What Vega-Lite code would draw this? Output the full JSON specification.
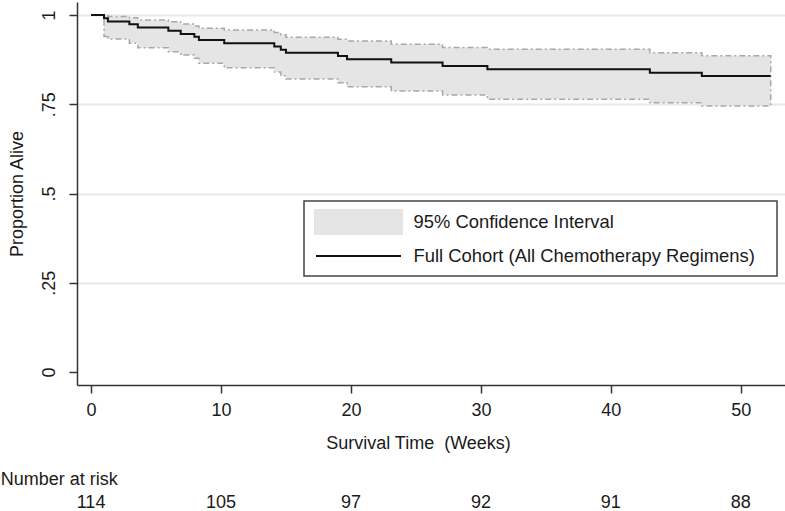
{
  "$schema": "https://vega.github.io/schema/vega-lite/v6.json",
  "padding": {"left": 0, "top": 2, "right": 0, "bottom": 0},
  "background": "white",
  "config": {
    "font": "Liberation Sans",
    "view": {"stroke": null},
    "axis": {"labelFont": "Liberation Sans", "titleFont": "Liberation Sans", "labelColor": "#1a1a1a", "titleColor": "#1a1a1a", "titleFontWeight": "normal", "labelFontSize": 18, "titleFontSize": 18, "domainColor": "#333333", "tickColor": "#333333", "domainWidth": 1.5, "tickWidth": 1.5},
    "legend": {
      "labelFont": "Liberation Sans", "orient": "none", "legendX": 227, "legendY": 199,
      "strokeColor": "#444444", "padding": 10, "rowPadding": 7,
      "labelFontSize": 18.4, "labelColor": "#1a1a1a", "labelOffset": 44, "labelLimit": 0,
      "symbolSize": 400, "symbolOffset": 33.5,
      "titleOrient": "right", "titlePadding": 12, "titleFontSize": 18
    },
    "title": {"font": "Liberation Sans", "fontWeight": "normal", "color": "#1a1a1a"}
  },
  "datasets": {
    "km": [
      {"week": 0, "S": 1, "lo": null, "hi": null},
      {"week": 1.0, "S": 0.991, "lo": 0.94, "hi": 0.999},
      {"week": 1.3, "S": 0.982, "lo": 0.933, "hi": 0.996},
      {"week": 2.95, "S": 0.974, "lo": 0.921, "hi": 0.992},
      {"week": 3.6, "S": 0.965, "lo": 0.908, "hi": 0.986},
      {"week": 5.95, "S": 0.956, "lo": 0.897, "hi": 0.981},
      {"week": 6.9, "S": 0.947, "lo": 0.888, "hi": 0.975},
      {"week": 7.95, "S": 0.939, "lo": 0.879, "hi": 0.969},
      {"week": 8.3, "S": 0.93, "lo": 0.865, "hi": 0.963},
      {"week": 10.25, "S": 0.921, "lo": 0.852, "hi": 0.958},
      {"week": 14.1, "S": 0.912, "lo": 0.84, "hi": 0.951},
      {"week": 14.6, "S": 0.903, "lo": 0.83, "hi": 0.945},
      {"week": 15.0, "S": 0.894, "lo": 0.821, "hi": 0.9375},
      {"week": 19.0, "S": 0.885, "lo": 0.81, "hi": 0.932},
      {"week": 19.7, "S": 0.876, "lo": 0.799, "hi": 0.927},
      {"week": 23.1, "S": 0.867, "lo": 0.787, "hi": 0.918},
      {"week": 27.05, "S": 0.857, "lo": 0.776, "hi": 0.909},
      {"week": 30.5, "S": 0.848, "lo": 0.764, "hi": 0.904},
      {"week": 43.0, "S": 0.838, "lo": 0.754, "hi": 0.894},
      {"week": 47.0, "S": 0.829, "lo": 0.745, "hi": 0.886},
      {"week": 52.3, "S": 0.829, "lo": 0.745, "hi": 0.886}
    ],
    "risk": [
      {"week": 0, "n": 114},
      {"week": 10, "n": 105},
      {"week": 20, "n": 97},
      {"week": 30, "n": 92},
      {"week": 40, "n": 91},
      {"week": 50, "n": 88}
    ]
  },
  "spacing": 19,
  "vconcat": [
    {
      "width": 708,
      "height": 383,
      "data": {"name": "km"},
      "encoding": {
        "x": {"field": "week", "type": "quantitative", "scale": {"domain": [-1.08, 53.4], "nice": false, "zero": false},
          "axis": {"values": [0, 10, 20, 30, 40, 50], "title": "Survival Time\u00a0 (Weeks)", "titleX": 341, "titleAlign": "center", "grid": false, "tickSize": 8, "labelPadding": 8, "titlePadding": 15}}
      },
      "layer": [
        {
          "transform": [{"filter": "isValid(datum.lo)"}],
          "mark": {"type": "area", "interpolate": "step-after", "stroke": "#a8a8a8", "strokeWidth": 1.5, "strokeDash": [6, 3, 2, 3], "opacity": 1},
          "encoding": {
            "y": {"field": "lo", "type": "quantitative", "scale": {"domain": [-0.0364, 1.0364], "nice": false, "zero": false},
              "axis": {"values": [0, 0.25, 0.5, 0.75, 1], "title": "Proportion Alive", "labelExpr": "datum.value == 0 ? '0' : datum.value == 1 ? '1' : replace(format(datum.value, '.2~f'), '0.', '.')", "labelAngle": 270, "labelAlign": "center", "labelBaseline": "middle", "tickSize": 8, "labelPadding": 20, "titlePadding": 14, "grid": true, "gridWidth": 2, "gridColor": {"condition": {"test": "datum.value === 0", "value": "transparent"}, "value": "#e8e8e8"}}},
            "y2": {"field": "hi"},
            "color": {"datum": "95% Confidence Interval", "type": "nominal",
              "scale": {"domain": ["95% Confidence Interval", "Full Cohort (All Chemotherapy Regimens)"], "range": ["#e5e5e5", "#111111"]},
              "legend": {
                "title": " ",
                "encode": {
                  "legend": {"update": {"strokeWidth": {"value": 1.5}}},
                  "symbols": {"update": {
                    "shape": {"signal": "datum.value === '95% Confidence Interval' ? 'M-4.35,-1.2H4.35V1.2H-4.35Z' : 'M-4.25,0H4.25'"},
                    "fill": {"signal": "datum.value === '95% Confidence Interval' ? '#e5e5e5' : 'transparent'"},
                    "stroke": {"signal": "datum.value === '95% Confidence Interval' ? 'transparent' : '#111111'"},
                    "strokeWidth": {"value": 2},
                    "opacity": {"value": 1}
                  }}
                }
              }}
          }
        },
        {
          "mark": {"type": "line", "interpolate": "step-after", "strokeWidth": 2},
          "encoding": {
            "y": {"field": "S", "type": "quantitative"},
            "color": {"datum": "Full Cohort (All Chemotherapy Regimens)", "type": "nominal",
              "legend": {
                "title": " ",
                "encode": {
                  "legend": {"update": {"strokeWidth": {"value": 1.5}}},
                  "symbols": {"update": {
                    "shape": {"signal": "datum.value === '95% Confidence Interval' ? 'M-4.35,-1.2H4.35V1.2H-4.35Z' : 'M-4.25,0H4.25'"},
                    "fill": {"signal": "datum.value === '95% Confidence Interval' ? '#e5e5e5' : 'transparent'"},
                    "stroke": {"signal": "datum.value === '95% Confidence Interval' ? 'transparent' : '#111111'"},
                    "strokeWidth": {"value": 2},
                    "opacity": {"value": 1}
                  }}
                }
              }}
          }
        }
      ]
    },
    {
      "width": 708,
      "height": 20,
      "data": {"name": "risk"},
      "title": {"text": "Number at risk", "anchor": "start", "dx": -76, "fontSize": 18, "offset": 4},
      "mark": {"type": "text", "fontSize": 18, "color": "#1a1a1a"},
      "encoding": {
        "x": {"field": "week", "type": "quantitative", "scale": {"domain": [-1.08, 53.4], "nice": false, "zero": false}, "axis": null},
        "text": {"field": "n", "type": "quantitative"}
      }
    }
  ]
}
